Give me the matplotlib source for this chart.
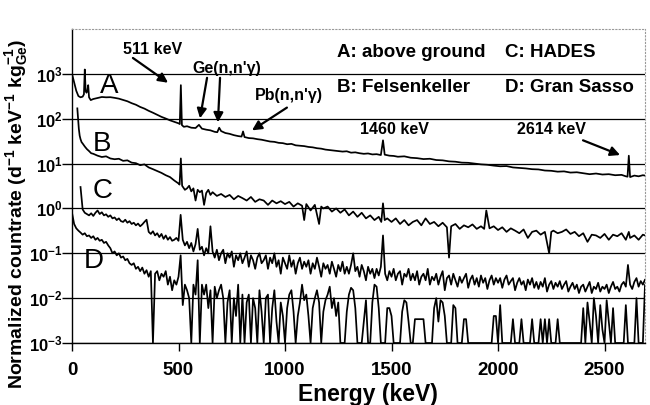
import numpy as np
import matplotlib
matplotlib.use('Agg')
import matplotlib.pyplot as plt
from matplotlib.ticker import NullLocator, FixedLocator

plt.rcParams['font.family'] = ['Liberation Sans', 'DejaVu Sans']
plt.rcParams['mathtext.fontset'] = 'custom'
plt.rcParams['mathtext.rm'] = 'Liberation Sans:bold'
plt.rcParams['mathtext.bf'] = 'Liberation Sans:bold'
plt.rcParams['mathtext.it'] = 'Liberation Sans:bold:italic'
plt.rcParams['mathtext.default'] = 'rm'

# ---------------- data ----------------
A_energy = [0, 10, 20, 30, 40, 50, 56, 60, 64, 68, 72, 76, 80, 88, 100, 120, 140, 160, 180, 200,
            220, 240, 260, 280, 300, 320, 340, 360, 380, 400, 420, 440, 460, 480, 500, 506, 511, 516,
            525, 540, 560, 580, 596, 610, 630, 650, 670, 682, 691, 700, 720, 740, 760, 780, 796, 803,
            810, 830, 850, 870, 890, 910, 930, 950, 970, 990, 1010, 1030, 1050, 1070, 1090, 1110,
            1130, 1150, 1170, 1190, 1210, 1230, 1250, 1270, 1290, 1310, 1330, 1350, 1370, 1390, 1410,
            1430, 1450, 1460, 1468, 1490, 1510, 1530, 1560, 1590, 1620, 1650, 1680, 1710, 1740, 1770,
            1800, 1830, 1860, 1890, 1920, 1950, 1980, 2010, 2040, 2070, 2100, 2130, 2160, 2190, 2220,
            2250, 2280, 2310, 2340, 2370, 2400, 2430, 2460, 2490, 2520, 2550, 2580, 2600, 2608, 2614,
            2620, 2640, 2660, 2680, 2700]
A_rate = [1000, 650, 420, 320, 300, 310, 350, 1250, 420, 380, 420, 560, 300, 260, 275, 290, 305, 300,
          302, 292, 280, 262, 245, 222, 205, 183, 168, 150, 136, 122, 110, 101, 92, 85, 79, 76, 560, 72,
          66, 68, 63, 62, 73, 60, 57, 55, 51, 50, 63, 53, 48, 46, 43, 41, 40, 52, 39, 37, 36.5, 35, 34,
          32.5, 31, 30.5, 29, 28.5, 27, 27.5, 25.5, 25, 24.5, 23.5, 23, 22, 21.5, 20.5, 20, 19.5, 19,
          18.5, 18.8, 17.5, 17.8, 17, 16.5, 16.8, 16, 16.2, 15.5, 33, 15.8, 15, 14.8, 14.2, 14.5, 13.5,
          13.2, 12.6, 12.8, 12, 11.8, 11.2, 11, 10.5, 10.4, 10, 9.6, 9.4, 9, 8.7, 8.8, 8.2, 8, 7.8, 7.5,
          7.4, 7, 6.9, 6.6, 6.7, 6.3, 6.4, 6.1, 5.8, 6, 5.7, 5.8, 5.5, 5.6, 5.2, 5.1, 15, 5.0, 5.4, 5.2,
          5.5, 5.3]

B_energy = [25, 28, 32, 36, 40, 45, 50, 60, 70, 80, 90, 100, 120, 140, 160, 180, 200, 220, 240, 260,
            280, 300, 320, 340, 360, 380, 400, 420, 440, 460, 480, 500, 505, 511, 517, 530, 540, 550,
            560, 570, 580, 590, 600, 610, 620, 630, 640, 650, 660, 680, 700, 720, 740, 760, 780, 800,
            820, 840, 860, 880, 900, 920, 940, 960, 980, 1000, 1020, 1040, 1060, 1080, 1090, 1100, 1120,
            1140, 1160, 1170, 1180, 1200, 1220, 1240, 1260, 1280, 1300, 1320, 1340, 1360, 1380, 1400,
            1420, 1440, 1452, 1460, 1468, 1480, 1500, 1520, 1540, 1560, 1580, 1600, 1620, 1640, 1660,
            1680, 1700, 1720, 1740, 1760, 1770, 1780, 1800, 1820, 1840, 1860, 1880, 1900, 1920, 1935,
            1945, 1960, 1980, 2000, 2020, 2040, 2060, 2080, 2100, 2120, 2140, 2160, 2180, 2200, 2220,
            2240, 2250, 2260, 2280, 2300, 2320, 2340, 2360, 2380, 2400, 2420, 2440, 2460, 2480, 2500,
            2520, 2540, 2560, 2580, 2600, 2614, 2620, 2640, 2660, 2680, 2700]
B_rate = [170, 110, 60, 42, 35, 30, 28, 24, 21, 19, 17, 16.5, 15, 14, 14.5, 13, 12.5, 12.8, 11.5, 11.8,
          10.5, 10.2, 9.2, 9.6, 8.2, 7.5, 6.8, 6.2, 5.5, 5.0, 4.2, 3.6, 3.4, 13, 3.2, 2.6, 2.8, 3.2,
          2.4, 2.8, 1.5, 2.6, 2.3, 2.5, 1.2, 2.2, 2.6, 2.0, 2.3, 1.9, 2.1, 1.8, 2.0, 1.6, 1.9, 1.7, 1.5,
          1.8, 1.4, 1.6, 1.5, 1.2, 1.5, 1.3, 1.45, 1.25, 1.4, 1.1, 1.3, 1.15, 0.55, 1.25, 0.9, 1.2, 0.45,
          1.1, 1.0, 1.1, 0.85, 1.0, 0.8, 0.95, 0.7, 0.85, 0.65, 0.8, 0.6, 0.7, 0.55, 0.65, 0.5, 1.3,
          0.55, 0.6, 0.5, 0.6, 0.45, 0.55, 0.42, 0.5, 0.55, 0.42, 0.6, 0.45, 0.5, 0.4, 0.48, 0.38, 0.08,
          0.4, 0.45, 0.35, 0.42, 0.38, 0.44, 0.35, 0.4, 0.35, 0.9, 0.36, 0.4, 0.33, 0.38, 0.3, 0.36,
          0.32, 0.28, 0.34, 0.22, 0.3, 0.32, 0.26, 0.3, 0.1, 0.3, 0.32, 0.28, 0.3, 0.34, 0.27, 0.3,
          0.24, 0.28, 0.18, 0.26, 0.25, 0.22, 0.27, 0.2, 0.26, 0.24, 0.28, 0.2, 0.3, 0.22, 0.25, 0.2,
          0.26, 0.24]

# shared 10-keV channel grid for the low-background spectra C and D
CD_energy = [
    0, 10, 20, 30, 40, 50, 60, 70, 80, 90,
    100, 110, 120, 130, 140, 150, 160, 170, 180, 190,
    200, 210, 220, 230, 240, 250, 260, 270, 280, 290,
    300, 310, 320, 330, 340, 350, 360, 370, 380, 390,
    400, 410, 420, 430, 440, 450, 460, 470, 480, 490,
    500, 510, 520, 530, 540, 550, 560, 570, 580, 590,
    600, 610, 620, 630, 640, 650, 660, 670, 680, 690,
    700, 710, 720, 730, 740, 750, 760, 770, 780, 790,
    800, 810, 820, 830, 840, 850, 860, 870, 880, 890,
    900, 910, 920, 930, 940, 950, 960, 970, 980, 990,
    1000, 1010, 1020, 1030, 1040, 1050, 1060, 1070, 1080, 1090,
    1100, 1110, 1120, 1130, 1140, 1150, 1160, 1170, 1180, 1190,
    1200, 1210, 1220, 1230, 1240, 1250, 1260, 1270, 1280, 1290,
    1300, 1310, 1320, 1330, 1340, 1350, 1360, 1370, 1380, 1390,
    1400, 1410, 1420, 1430, 1440, 1450, 1460, 1470, 1480, 1490,
    1500, 1510, 1520, 1530, 1540, 1550, 1560, 1570, 1580, 1590,
    1600, 1610, 1620, 1630, 1640, 1650, 1660, 1670, 1680, 1690,
    1700, 1710, 1720, 1730, 1740, 1750, 1760, 1770, 1780, 1790,
    1800, 1810, 1820, 1830, 1840, 1850, 1860, 1870, 1880, 1890,
    1900, 1910, 1920, 1930, 1940, 1950, 1960, 1970, 1980, 1990,
    2000, 2010, 2020, 2030, 2040, 2050, 2060, 2070, 2080, 2090,
    2100, 2110, 2120, 2130, 2140, 2150, 2160, 2170, 2180, 2190,
    2200, 2210, 2220, 2230, 2240, 2250, 2260, 2270, 2280, 2290,
    2300, 2310, 2320, 2330, 2340, 2350, 2360, 2370, 2380, 2390,
    2400, 2410, 2420, 2430, 2440, 2450, 2460, 2470, 2480, 2490,
    2500, 2510, 2520, 2530, 2540, 2550, 2560, 2570, 2580, 2590,
    2600, 2610, 2620, 2630, 2640, 2650, 2660, 2670, 2680, 2690,
    2700]

nan = float('nan')
C_rate = [
    nan, nan, nan, nan, 3.0, 0.95, 0.8, 0.75, 0.7, 0.78,
    0.68, 0.8, 0.9, 0.75, 0.82, 0.7, 0.74, 0.65, 0.7, 0.6,
    0.63, 0.55, 0.6, 0.52, 0.5, 0.56, 0.48, 0.52, 0.45, 0.48,
    0.42, 0.46, 0.4, 0.44, 0.5, 0.56, 0.3, 0.27, 0.31, 0.25,
    0.28, 0.23, 0.27, 0.21, 0.25, 0.2, 0.23, 0.19, 0.2, 0.22,
    0.19, 0.72, 0.2, 0.15, 0.18, 0.13, 0.17, 0.11, 0.16, 0.35,
    0.12, 0.14, 0.09, 0.13, 0.1, 0.4, 0.11, 0.08, 0.12, 0.07,
    0.1, 0.12, 0.06, 0.1, 0.08, 0.11, 0.05, 0.09, 0.07, 0.1,
    0.06, 0.08, 0.11, 0.05, 0.09, 0.07, 0.045, 0.08, 0.1, 0.06,
    0.07, 0.09, 0.045, 0.08, 0.06, 0.1, 0.05, 0.07, 0.035, 0.08,
    0.06, 0.045, 0.09, 0.05, 0.07, 0.035, 0.06, 0.08, 0.045, 0.065,
    0.05, 0.07, 0.035, 0.06, 0.045, 0.08, 0.05, 0.03, 0.06, 0.045,
    0.055, 0.035, 0.065, 0.045, 0.03, 0.055, 0.04, 0.065, 0.035, 0.05,
    0.035, 0.055, 0.1, 0.04, 0.05, 0.03, 0.055, 0.04, 0.025, 0.05,
    0.035, 0.045, 0.028, 0.045, 0.032, 0.05, 0.25, 0.035, 0.025, 0.04,
    0.03, 0.045, 0.025, 0.035, 0.04, 0.02, 0.035, 0.03, 0.045, 0.025,
    0.035, 0.025, 0.04, 0.02, 0.03, 0.035, 0.025, 0.045, 0.02, 0.03,
    0.025, 0.035, 0.02, 0.03, 0.04, 0.015, 0.028, 0.032, 0.02, 0.035,
    0.025, 0.018, 0.03, 0.022, 0.028, 0.035, 0.017, 0.026, 0.032, 0.02,
    0.028, 0.018, 0.032, 0.022, 0.028, 0.016, 0.025, 0.032, 0.02, 0.028,
    0.022, 0.028, 0.017, 0.026, 0.032, 0.02, 0.024, 0.028, 0.015, 0.022,
    0.028, 0.02, 0.024, 0.015, 0.026, 0.02, 0.028, 0.017, 0.023, 0.016,
    0.023, 0.018, 0.028, 0.014, 0.02, 0.024, 0.016, 0.022, 0.018, 0.024,
    0.016, 0.02, 0.024, 0.014, 0.018, 0.022, 0.016, 0.02, 0.013, 0.018,
    0.02, 0.014, 0.018, 0.023, 0.013, 0.018, 0.016, 0.022, 0.014, 0.018,
    0.016, 0.02, 0.013, 0.018, 0.023, 0.016, 0.018, 0.014, 0.02, 0.023,
    0.018, 0.055, 0.02, 0.016, 0.023, 0.028, 0.018, 0.024, 0.02, 0.026,
    0.023]

D_rate = [
    0.8, 0.45, 0.36, 0.32, 0.29, 0.26, 0.28, 0.24, 0.25, 0.22,
    0.24, 0.2, 0.22, 0.19, 0.2, 0.17, 0.18, 0.15, 0.13, 0.1,
    0.11, 0.09, 0.1, 0.08, 0.085, 0.07, 0.075, 0.06, 0.055, 0.06,
    0.045, 0.05, 0.04, 0.048, 0.035, 0.042, 0.03, 0.04, 0.001, 0.035,
    0.04, 0.025, 0.035, 0.03, 0.04, 0.02, 0.03, 0.015, 0.025, 0.02,
    0.03, 0.09, 0.007, 0.02, 0.015, 0.01, 0.001, 0.02, 0.012, 0.07,
    0.001, 0.02, 0.012, 0.02, 0.006, 0.015, 0.001, 0.018, 0.01, 0.015,
    0.02, 0.01, 0.001, 0.008, 0.015, 0.001, 0.01, 0.004, 0.02, 0.001,
    0.012, 0.001, 0.008, 0.012, 0.001, 0.01, 0.006, 0.001, 0.015, 0.005,
    0.001, 0.01, 0.012, 0.001, 0.006, 0.015, 0.003, 0.001, 0.008, 0.004,
    0.001, 0.006, 0.012, 0.015, 0.005, 0.001, 0.004, 0.008, 0.02, 0.009,
    0.012, 0.004, 0.001, 0.006, 0.01, 0.015, 0.008, 0.001, 0.005, 0.009,
    0.012, 0.018, 0.006, 0.01, 0.004, 0.008, 0.001, 0.001, 0.001, 0.005,
    0.012, 0.017, 0.015, 0.006, 0.001, 0.001, 0.001, 0.003, 0.009, 0.001,
    0.001, 0.008, 0.02, 0.018, 0.006, 0.001, 0.001, 0.001, 0.006, 0.006,
    0.004, 0.001, 0.001, 0.001, 0.001, 0.005, 0.009, 0.008, 0.003, 0.001,
    0.001, 0.0034, 0.0034, 0.0034, 0.0034, 0.0034, 0.001, 0.001, 0.001, 0.001,
    0.006, 0.01, 0.003, 0.009, 0.008, 0.004, 0.001, 0.001, 0.001, 0.007,
    0.006, 0.001, 0.001, 0.001, 0.0034, 0.0034, 0.001, 0.001, 0.001, 0.001,
    0.001, 0.001, 0.001, 0.001, 0.001, 0.001, 0.001, 0.001, 0.004, 0.004,
    0.001, 0.007, 0.001, 0.001, 0.001, 0.001, 0.001, 0.0034, 0.001, 0.001,
    0.001, 0.0034, 0.001, 0.001, 0.001, 0.001, 0.0034, 0.001, 0.001, 0.001,
    0.0034, 0.001, 0.0034, 0.001, 0.0034, 0.001, 0.001, 0.001, 0.0034, 0.001,
    0.001, 0.001, 0.001, 0.001, 0.001, 0.001, 0.001, 0.001, 0.001, 0.001,
    0.006, 0.001, 0.008, 0.003, 0.001, 0.01, 0.004, 0.001, 0.007, 0.002,
    0.001, 0.009, 0.003, 0.001, 0.006, 0.001, 0.001, 0.001, 0.001, 0.001,
    0.007, 0.001, 0.001, 0.001, 0.001, 0.01, 0.001, 0.001, 0.001, 0.02,
    0.008]

y_ticks = [1e-3, 1e-2, 1e-1, 1e0, 1e1, 1e2, 1e3]
y_ticklabels = [r'$\mathbf{10^{-3}}$', r'$\mathbf{10^{-2}}$', r'$\mathbf{10^{-1}}$',
                r'$\mathbf{10^{0}}$', r'$\mathbf{10^{1}}$', r'$\mathbf{10^{2}}$', r'$\mathbf{10^{3}}$']
x_ticks = [0, 500, 1000, 1500, 2000, 2500]

# ---------------- figure ----------------
fig = plt.figure(figsize=(6.5, 4.05), dpi=100)
ax = fig.add_axes([72 / 650, 62 / 405, 573 / 650, 314 / 405])
ax.set_yscale('log')
ax.set_ylim(1e-3, 1e4)
ax.set_xlim(0, 2690)

for yv in y_ticks:
    ax.axhline(yv, color='black', lw=0.9, zorder=1)

lw = 1.25
ax.plot(CD_energy, D_rate, color='black', lw=lw, zorder=3)
ax.plot(CD_energy, C_rate, color='black', lw=lw, zorder=3)
ax.plot(B_energy, B_rate, color='black', lw=lw, zorder=3)
ax.plot(A_energy, A_rate, color='black', lw=lw, zorder=3)

ax.yaxis.set_major_locator(FixedLocator(y_ticks))
ax.yaxis.set_minor_locator(NullLocator())
ax.set_yticklabels(y_ticklabels, fontsize=12)
ax.set_xticks(x_ticks)
ax.set_xticklabels([str(v) for v in x_ticks], fontsize=13.5, fontweight='bold')
ax.tick_params(axis='y', direction='out', length=7, width=1.0, pad=0)
ax.tick_params(axis='x', direction='out', length=6, width=1.0, pad=8)

for side in ['top', 'right']:
    ax.spines[side].set_linestyle((0, (1, 2)))
    ax.spines[side].set_color('#999999')
    ax.spines[side].set_linewidth(0.8)
ax.spines['left'].set_linewidth(1.0)
ax.spines['bottom'].set_linewidth(1.0)

# curve letters
for lab, xe, yv in [('A', 174, 540), ('B', 141, 28), ('C', 145, 2.5), ('D', 103, 0.068)]:
    ax.text(xe, yv, lab, fontsize=20, ha='center', va='center', zorder=4)

# legend text
leg_kw = dict(fontsize=13.5, fontweight='bold', ha='left', va='center', zorder=4)
ax.text(1244, 3070, 'A: above ground', **leg_kw)
ax.text(2033, 3070, 'C: HADES', **leg_kw)
ax.text(1244, 500, 'B: Felsenkeller', **leg_kw)
ax.text(2033, 500, 'D: Gran Sasso', **leg_kw)

# peak annotations
ann_kw = dict(fontsize=11.5, fontweight='bold', ha='left', va='center', zorder=4)
arr = dict(arrowstyle='-|>', color='black', lw=1.6, mutation_scale=14, shrinkA=0, shrinkB=0)
ax.text(239, 3560, '511 keV', **ann_kw)
ax.annotate('', xy=(451, 634), xytext=(286, 2260), arrowprops=arr)
ax.text(563, 1350, "Ge(n,n'\u03b3)", **ann_kw)
ax.annotate('', xy=(601, 102), xytext=(634, 816), arrowprops=arr)
ax.annotate('', xy=(685, 83), xytext=(695, 816), arrowprops=arr)
ax.text(859, 327, "Pb(n,n'\u03b3)", **ann_kw)
ax.annotate('', xy=(845, 55), xytext=(1009, 177), arrowprops=arr)
ax.text(1352, 58, '1460 keV', **ann_kw)
ax.text(2089, 58, '2614 keV', **ann_kw)
ax.annotate('', xy=(2573, 15.5), xytext=(2399, 33), arrowprops=arr)

fig.text(17 / 650, 1 - 214 / 405,
         r'Normalized countrate (d$^{-1}$ keV$^{-1}$ kg$^{-1}_{\mathrm{Ge}}$)',
         rotation=90, ha='center', va='center', fontsize=14, fontweight='bold')
fig.text(368 / 650, 1 - 394 / 405, 'Energy (keV)', ha='center', va='center',
         fontsize=16.5, fontweight='bold')

fig.savefig('out.png', dpi=100)
